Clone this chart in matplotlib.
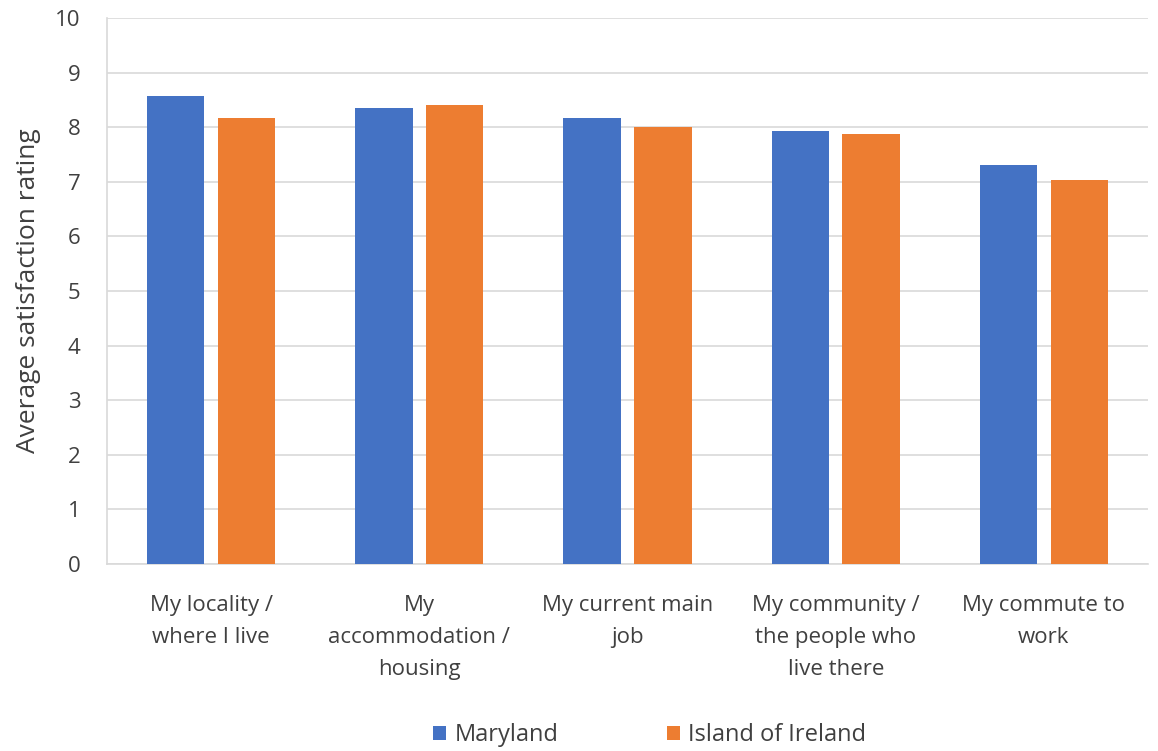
import matplotlib
matplotlib.use("Agg")
import matplotlib.pyplot as plt
import numpy as np

categories = ["My locality /\nwhere I live", "My\naccommodation /\nhousing", "My current main\njob",
              "My community /\nthe people who\nlive there", "My commute to\nwork"]
maryland = [8.57, 8.35, 8.17, 7.93, 7.31]
ireland = [8.16, 8.40, 8.01, 7.88, 7.03]
series_names = ["Maryland", "Island of Ireland"]
colors = ["#4472C4", "#ED7D31"]
yticks = list(range(0, 11))

plt.rcParams['font.family'] = ['Open Sans', 'DejaVu Sans']
fig = plt.figure(figsize=(11.58, 7.51), dpi=100)
ax = fig.add_axes([107/1158, 1-564/751, (1148-107)/1158, (564-18)/751])

x = np.arange(len(categories))
w = 0.275
off = 0.17
ax.bar(x - off, maryland, w, color=colors[0], label=series_names[0], zorder=3)
ax.bar(x + off, ireland, w, color=colors[1], label=series_names[1], zorder=3)

ax.set_xlim(-0.5, len(categories) - 0.5)
ax.set_ylim(0, 10)
ax.set_yticks(yticks)
ax.set_yticklabels([str(t) for t in yticks], fontsize=16, color="#404040")
ax.set_xticks(x)
ax.set_xticklabels(categories, fontsize=16, color="#404040", linespacing=1.7)
ax.tick_params(axis='x', length=0, pad=22)
ax.tick_params(axis='y', length=0, pad=19)
ax.yaxis.grid(True, color="#d9d9d9", linewidth=1.2, zorder=0)
ax.set_axisbelow(True)
for s in ["top", "right"]:
    ax.spines[s].set_visible(False)
for s in ["left", "bottom"]:
    ax.spines[s].set_color("#d9d9d9")
    ax.spines[s].set_linewidth(1.2)

ax.set_ylabel("Average satisfaction rating", fontsize=19, color="#404040", labelpad=10)

fig.legend(loc="center", bbox_to_anchor=(0.561, 1 - 735/751), ncol=2, frameon=False,
           fontsize=17, handlelength=0.55, handleheight=0.55, handletextpad=0.35,
           columnspacing=4.6, labelcolor="#404040")

fig.savefig("out.png", dpi=100)
